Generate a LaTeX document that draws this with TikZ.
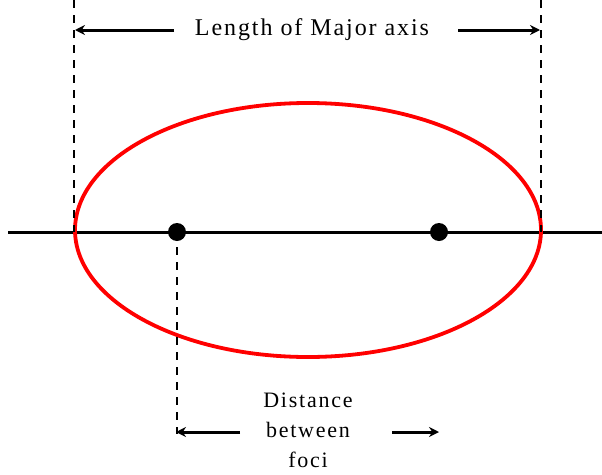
\documentclass[tikz,border=0pt]{standalone}
\usepackage{fontspec}
\setmainfont{Liberation Serif}[LetterSpace=8]
\usetikzlibrary{arrows.meta}
\begin{document}
\begin{tikzpicture}[x=1pt,y=-1pt,
  dashv/.style={draw=black, line width=2.2pt, dash pattern=on 8pt off 7pt},
  dimarrow/.style={draw=black, line width=3pt, -{Stealth[length=10pt,width=10pt]}},
  focus/.style={circle, fill=black, inner sep=0pt, minimum size=18pt},
  lbl/.style={font=\fontsize{22}{30}\selectfont, inner sep=0pt, align=center}]
\useasboundingbox (0,0) rectangle (602,474);
% axis
\coordinate (axL) at (8,232);
\coordinate (axR) at (602,232);
\draw[line width=3pt] (axL) -- (axR);
% ellipse
\draw[red, line width=3.8pt] (308,230) ellipse [x radius=233, y radius=127];
% foci
\node[focus] (f1) at (177,232) {};
\node[focus] (f2) at (439,232) {};
% dashed verticals
\coordinate (vLt) at (74,0);
\coordinate (vLb) at (74,232);
\coordinate (vRt) at (541,0);
\coordinate (vRb) at (541,232);
\coordinate (fb) at (177,434);
\draw[dashv] (vLt) -- (vLb);
\draw[dashv] (vRt) -- (vRb);
\draw[dashv] (f1.center) -- (fb);
% top dimension
\node[lbl, font=\fontsize{24}{30}\selectfont] (major) at (312,30) {Length of Major axis};
\coordinate (tA) at (174,30);
\coordinate (tAend) at (75,30);
\coordinate (tB) at (458,30);
\coordinate (tBend) at (540,30);
\draw[dimarrow] (tA) -- (tAend);
\draw[dimarrow] (tB) -- (tBend);
% bottom dimension
\node[lbl] (dist) at (308,430) {Distance\\between\\foci};
\coordinate (bA) at (240,432);
\coordinate (bAend) at (176,432);
\coordinate (bB) at (392,432);
\coordinate (bBend) at (439,432);
\draw[dimarrow] (bA) -- (bAend);
\draw[dimarrow] (bB) -- (bBend);
\end{tikzpicture}
\end{document}
